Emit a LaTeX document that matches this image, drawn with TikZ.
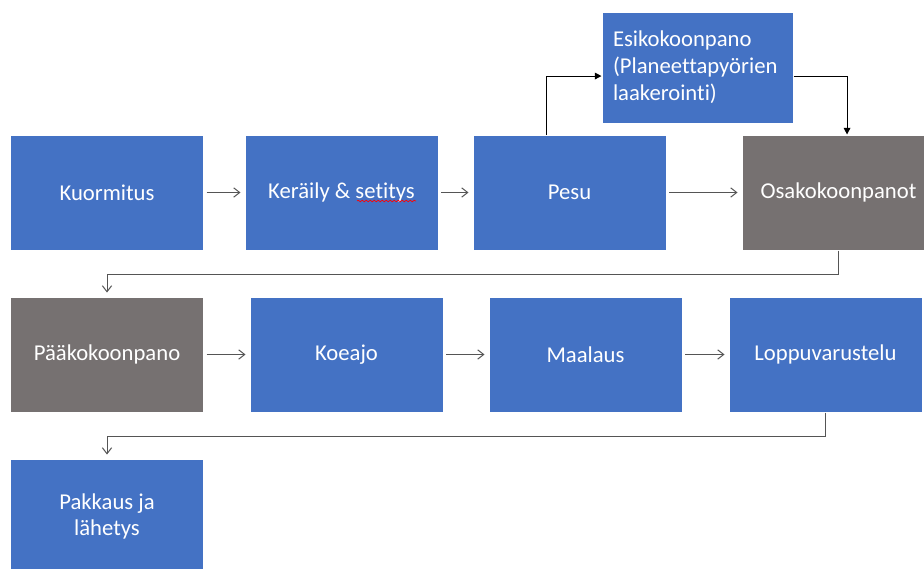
\documentclass[tikz,border=0pt]{standalone}
\usepackage{fontspec}
\setmainfont[Ligatures={NoCommon}]{Carlito}
\usetikzlibrary{arrows.meta,decorations.pathmorphing}
\definecolor{boxblue}{HTML}{4472C4}
\definecolor{boxgray}{HTML}{767171}
\definecolor{linegray}{HTML}{555555}
\begin{document}
\begin{tikzpicture}[x=0.75pt,y=-0.75pt,
  box/.style={draw=white, line width=0.75pt, fill=boxblue, text=white,
    minimum width=144.75pt, minimum height=86.25pt, inner sep=0pt,
    font=\fontsize{17}{19.5}\selectfont, align=center},
  graybox/.style={box, fill=boxgray},
  flow/.style={draw=linegray, line width=0.75pt,
    -{Straight Barb[length=4.5pt,width=7pt]}},
  blackflow/.style={draw=black, line width=0.75pt,
    -{Triangle[length=5pt,width=5pt]}}]
\clip (0,0) rectangle (924,568);
\fill[white] (0,0) rectangle (924,568);
% row 1
\node[box] (kuo) at (107,192.5) {Kuormitus};
\node[box] (ker) at (341.5,192.5) {Keräily \& setitys};
\node[box] (pesu) at (569.5,192.5) {Pesu};
\node[graybox] (osa) at (838.5,192.5) {Osakokoonpanot};
\node[box, minimum width=143.25pt, minimum height=83.25pt, text width=126.75pt,
  align=left, font=\fontsize{17}{20.3}\selectfont] (esi) at (697.5,67.5)
  {Esikokoonpano\\(Planeettapyörien\\laakerointi)};
% row 2
\node[graybox] (paa) at (107,354.5) {Pääkokoonpano};
\node[box] (koe) at (346.5,354.5) {Koeajo};
\node[box] (maa) at (585.5,354.5) {Maalaus};
\node[box] (lop) at (825.5,354.5) {Loppuvarustelu};
% row 3
\node[box] (pak) at (107,516.5) {Pakkaus ja\\lähetys};
% spell-check underline
\draw[red, line width=0.5pt, decorate,
  decoration={snake, segment length=3pt, amplitude=0.6pt}] (357,201) -- (416,201);
% connectors
\draw[flow, shorten <=2pt, shorten >=3pt] (kuo.east) -- (ker.west);
\draw[flow, shorten <=2pt, shorten >=3pt] (ker.east) -- (pesu.west);
\draw[flow, shorten <=2pt, shorten >=3pt] (pesu.east) -- (osa.west);
\draw[flow, shorten <=2pt, shorten >=3pt] (paa.east) -- (koe.west);
\draw[flow, shorten <=2pt, shorten >=3pt] (koe.east) -- (maa.west);
\draw[flow, shorten <=2pt, shorten >=3pt] (maa.east) -- (lop.west);
\draw[flow, shorten >=3pt] (osa.south) -- ++(0,24) -| (paa.north);
\draw[flow, shorten >=3pt] (lop.south) -- ++(0,24) -| (pak.north);
\coordinate (pesuout) at ([xshift=-17.6pt]pesu.north);
\coordinate (esiin) at ([yshift=-6.4pt]esi.west);
\coordinate (esiout) at ([yshift=-6.4pt]esi.east);
\coordinate (osain) at ([xshift=6.4pt]osa.north);
\draw[blackflow] (pesuout) |- (esiin);
\draw[blackflow] (esiout) -| (osain);
\end{tikzpicture}
\end{document}
